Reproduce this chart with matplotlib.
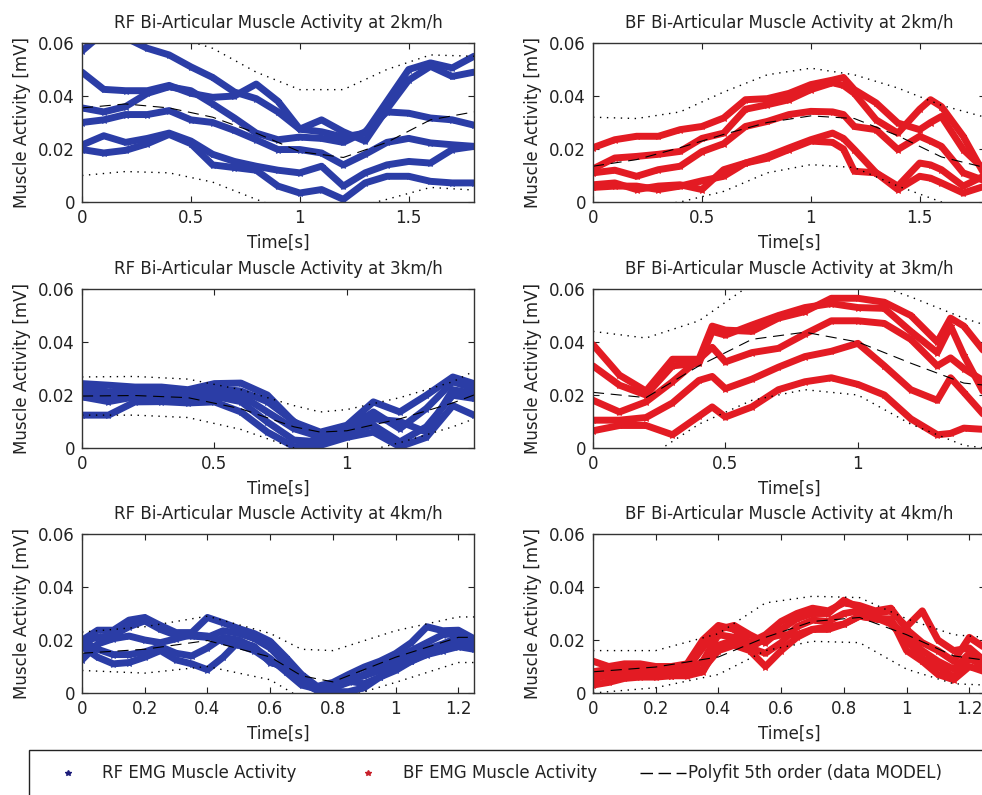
import numpy as np
import matplotlib
matplotlib.use("Agg")
import matplotlib.pyplot as plt
from matplotlib.lines import Line2D
from matplotlib.patches import Rectangle

plt.rcParams['font.family'] = ['DejaVu Sans']

BLUE = '#2b3da6'
RED = '#e31b23'

# ---- RF 2 km/h ----
t_rf2 = [0, .1, .2, .3, .4, .5, .6, .7, .8, .9, 1.0, 1.1, 1.2, 1.3, 1.4, 1.5, 1.6, 1.7, 1.8]
rf2 = [
    [0.057, 0.064, 0.062, 0.058, 0.0555, 0.051, 0.047, 0.0415, 0.039, 0.034, 0.0275, 0.0265, 0.0245, 0.026, 0.038, 0.050, 0.0525, 0.0506, 0.055],
    [0.049, 0.0425, 0.042, 0.042, 0.044, 0.041, 0.0395, 0.040, 0.0445, 0.038, 0.0275, 0.031, 0.0265, 0.023, 0.035, 0.046, 0.0512, 0.0474, 0.049],
    [0.0355, 0.034, 0.036, 0.041, 0.0435, 0.042, 0.037, 0.0317, 0.026, 0.0235, 0.0245, 0.024, 0.0225, 0.0265, 0.034, 0.0335, 0.0317, 0.031, 0.029],
    [0.030, 0.031, 0.033, 0.033, 0.0345, 0.031, 0.030, 0.027, 0.0235, 0.0198, 0.0198, 0.0185, 0.014, 0.018, 0.0225, 0.024, 0.0223, 0.0216, 0.021],
    [0.0215, 0.025, 0.0225, 0.024, 0.026, 0.023, 0.018, 0.0153, 0.0135, 0.012, 0.011, 0.0135, 0.006, 0.011, 0.014, 0.0153, 0.0147, 0.0198, 0.021],
    [0.0198, 0.0185, 0.0195, 0.022, 0.0255, 0.022, 0.014, 0.013, 0.012, 0.006, 0.0034, 0.0047, 0.001, 0.0072, 0.0097, 0.0097, 0.0078, 0.0072, 0.0072],
]
tb_rf2 = [0, .2, .4, .6, .8, 1.0, 1.2, 1.4, 1.6, 1.8]
fit_rf2 = [0.0355, 0.037, 0.0355, 0.032, 0.026, 0.019, 0.0168, 0.0225, 0.031, 0.034]
up_rf2 = [0.062, 0.064, 0.063, 0.058, 0.049, 0.0424, 0.0424, 0.050, 0.0555, 0.055]
lo_rf2 = [0.010, 0.0115, 0.011, 0.0075, 0.001, -0.005, -0.003, 0.001, 0.0055, 0.0045]

# ---- BF 2 km/h ----
t_bf2 = [0, .1, .2, .3, .4, .5, .6, .7, .8, .9, 1.0, 1.1, 1.15, 1.2, 1.3, 1.4, 1.5, 1.55, 1.6, 1.7, 1.8]
bf2 = [
    [0.0205, 0.0235, 0.0248, 0.0248, 0.0273, 0.0285, 0.0317, 0.0386, 0.039, 0.041, 0.0443, 0.046, 0.047, 0.0424, 0.0374, 0.0298, 0.0273, 0.030, 0.0323, 0.0198, 0.012],
    [0.0125, 0.0166, 0.0172, 0.018, 0.0191, 0.024, 0.026, 0.035, 0.0367, 0.0386, 0.0424, 0.045, 0.044, 0.041, 0.031, 0.026, 0.035, 0.0386, 0.036, 0.0248, 0.010],
    [0.011, 0.012, 0.0097, 0.0122, 0.0135, 0.019, 0.022, 0.0285, 0.0304, 0.033, 0.0342, 0.034, 0.033, 0.0285, 0.0273, 0.0198, 0.0248, 0.023, 0.021, 0.011, 0.008],
    [0.0065, 0.0072, 0.0047, 0.006, 0.0065, 0.0047, 0.0122, 0.0147, 0.0172, 0.0204, 0.0235, 0.026, 0.024, 0.0198, 0.011, 0.006, 0.0147, 0.014, 0.0122, 0.006, 0.010],
    [0.0055, 0.006, 0.006, 0.0047, 0.006, 0.008, 0.0097, 0.0147, 0.0165, 0.0198, 0.023, 0.0225, 0.020, 0.0116, 0.011, 0.0047, 0.0097, 0.009, 0.0072, 0.0034, 0.006],
]
tb_bf2 = [0, .2, .4, .6, .8, 1.0, 1.2, 1.4, 1.6, 1.8]
fit_bf2 = [0.0135, 0.016, 0.0205, 0.0255, 0.030, 0.0325, 0.0315, 0.025, 0.017, 0.013]
up_bf2 = [0.032, 0.0315, 0.034, 0.0415, 0.048, 0.0505, 0.048, 0.043, 0.0365, 0.032]
lo_bf2 = [-0.005, -0.002, 0.0, 0.004, 0.011, 0.0141, 0.013, 0.006, 0.0, -0.005]

# ---- RF 3 km/h ----
t_rf3 = [0, .1, .2, .3, .4, .5, .6, .7, .8, .9, 1.0, 1.1, 1.2, 1.3, 1.4, 1.48]
rf3 = [
    [0.0243, 0.0237, 0.023, 0.023, 0.022, 0.0243, 0.0245, 0.020, 0.0098, 0.006, 0.0086, 0.0174, 0.0136, 0.0199, 0.0268, 0.0243],
    [0.0224, 0.0212, 0.021, 0.0215, 0.0205, 0.021, 0.0199, 0.0136, 0.0073, 0.0042, 0.0073, 0.0136, 0.0073, 0.0149, 0.025, 0.0224],
    [0.0193, 0.0175, 0.0193, 0.019, 0.0185, 0.0195, 0.0175, 0.0098, 0.003, 0.0023, 0.006, 0.0086, 0.0023, 0.008, 0.0199, 0.0187],
    [0.0124, 0.0124, 0.0174, 0.0175, 0.017, 0.0174, 0.0136, 0.006, 0.0005, 0.001, 0.004, 0.006, 0.0005, 0.004, 0.016, 0.0124],
    [0.020, 0.019, 0.0215, 0.020, 0.021, 0.0225, 0.0215, 0.0175, 0.010, 0.003, 0.005, 0.011, 0.010, 0.006, 0.022, 0.0205],
]
tb_rf3 = [0, .2, .4, .6, .8, .9, 1.0, 1.2, 1.4, 1.48]
fit_rf3 = [0.0196, 0.0198, 0.019, 0.0148, 0.008, 0.006, 0.0065, 0.011, 0.017, 0.020]
up_rf3 = [0.0268, 0.027, 0.026, 0.022, 0.016, 0.0136, 0.0145, 0.019, 0.025, 0.029]
lo_rf3 = [0.0124, 0.0124, 0.0115, 0.007, 0.0, -0.002, -0.003, 0.002, 0.008, 0.011]

# ---- BF 3 km/h ----
t_bf3 = [0, .1, .2, .3, .4, .45, .5, .6, .7, .8, .9, 1.0, 1.1, 1.2, 1.3, 1.35, 1.4, 1.48]
bf3 = [
    [0.039, 0.0275, 0.0215, 0.0335, 0.0335, 0.046, 0.0445, 0.044, 0.049, 0.0515, 0.0565, 0.0565, 0.055, 0.050, 0.040, 0.049, 0.046, 0.036],
    [0.031, 0.0237, 0.020, 0.031, 0.032, 0.044, 0.0426, 0.0464, 0.050, 0.053, 0.0545, 0.053, 0.0527, 0.044, 0.036, 0.046, 0.035, 0.020],
    [0.018, 0.0136, 0.0174, 0.025, 0.0335, 0.038, 0.0325, 0.036, 0.0376, 0.043, 0.048, 0.048, 0.047, 0.041, 0.031, 0.034, 0.030, 0.025],
    [0.0105, 0.0105, 0.0115, 0.017, 0.0255, 0.027, 0.0224, 0.026, 0.0305, 0.0345, 0.0365, 0.0395, 0.031, 0.022, 0.018, 0.0265, 0.021, 0.012],
    [0.0065, 0.0085, 0.0085, 0.005, 0.012, 0.0155, 0.0117, 0.0155, 0.022, 0.025, 0.0265, 0.024, 0.020, 0.011, 0.005, 0.0055, 0.0075, 0.007],
]
tb_bf3 = [0, .2, .4, .6, .8, 1.0, 1.2, 1.4, 1.48]
fit_bf3 = [0.021, 0.019, 0.031, 0.041, 0.0437, 0.040, 0.032, 0.0245, 0.0237]
up_bf3 = [0.044, 0.0415, 0.048, 0.062, 0.066, 0.064, 0.057, 0.049, 0.0464]
lo_bf3 = [-0.002, -0.004, 0.009, 0.018, 0.022, 0.020, 0.009, 0.001, 0.000]

# ---- RF 4 km/h ----
t_rf4 = [0, .05, .1, .15, .2, .25, .3, .35, .4, .45, .5, .55, .6, .65, .7, .75, .8, .85, .9, .95, 1.0, 1.05, 1.1, 1.15, 1.2, 1.25]
rf4 = [
    [0.0199, 0.0237, 0.0237, 0.0275, 0.0285, 0.0255, 0.0228, 0.0228, 0.0285, 0.0265, 0.0243, 0.0224, 0.0195, 0.0135, 0.007, 0.0025, 0.004, 0.007, 0.0098, 0.012, 0.0149, 0.019, 0.025, 0.0235, 0.0237, 0.0205],
    [0.0195, 0.021, 0.0218, 0.025, 0.0272, 0.024, 0.0218, 0.0215, 0.021, 0.0235, 0.0225, 0.0205, 0.017, 0.011, 0.005, 0.001, 0.002, 0.004, 0.007, 0.010, 0.013, 0.016, 0.019, 0.022, 0.0225, 0.0195],
    [0.0175, 0.0135, 0.011, 0.0115, 0.0135, 0.016, 0.0125, 0.011, 0.0088, 0.0135, 0.0195, 0.0175, 0.0115, 0.010, 0.0055, 0.0015, 0.0005, 0.0005, 0.002, 0.006, 0.0095, 0.012, 0.015, 0.018, 0.0185, 0.0175],
    [0.020, 0.0165, 0.0145, 0.0145, 0.0155, 0.0175, 0.015, 0.014, 0.017, 0.021, 0.020, 0.017, 0.013, 0.008, 0.003, 0.0015, 0.003, 0.0055, 0.0065, 0.0085, 0.011, 0.0135, 0.0165, 0.0185, 0.021, 0.0185],
    [0.0125, 0.0185, 0.0205, 0.0215, 0.020, 0.019, 0.0205, 0.022, 0.0215, 0.0195, 0.018, 0.016, 0.012, 0.009, 0.004, 0.001, 0.0015, 0.0045, 0.0035, 0.006, 0.0085, 0.012, 0.0145, 0.016, 0.0175, 0.0165],
]
tb_rf4 = [0, .2, .4, .6, .7, .8, 1.0, 1.2, 1.25]
fit_rf4 = [0.015, 0.0165, 0.0198, 0.0136, 0.0065, 0.0042, 0.0135, 0.021, 0.021]
up_rf4 = [0.023, 0.025, 0.029, 0.0225, 0.0165, 0.016, 0.0235, 0.0287, 0.0287]
lo_rf4 = [0.0085, 0.0075, 0.010, 0.005, -0.002, -0.003, 0.004, 0.0115, 0.0115]

# ---- BF 4 km/h ----
t_bf4 = [0, .05, .1, .15, .2, .25, .3, .35, .4, .45, .5, .55, .6, .65, .7, .75, .8, .85, .9, .95, 1.0, 1.05, 1.1, 1.15, 1.2, 1.25]
bf4 = [
    [0.012, 0.010, 0.011, 0.011, 0.010, 0.010, 0.011, 0.020, 0.0255, 0.024, 0.019, 0.022, 0.027, 0.030, 0.032, 0.031, 0.034, 0.033, 0.031, 0.032, 0.024, 0.019, 0.016, 0.012, 0.021, 0.017],
    [0.008, 0.009, 0.0095, 0.0085, 0.009, 0.0085, 0.009, 0.017, 0.024, 0.0255, 0.022, 0.019, 0.024, 0.028, 0.030, 0.030, 0.035, 0.032, 0.030, 0.031, 0.025, 0.031, 0.020, 0.016, 0.017, 0.012],
    [0.005, 0.007, 0.0075, 0.008, 0.0075, 0.0065, 0.007, 0.009, 0.016, 0.018, 0.016, 0.010, 0.016, 0.021, 0.024, 0.024, 0.026, 0.029, 0.028, 0.027, 0.021, 0.016, 0.012, 0.009, 0.015, 0.009],
    [0.003, 0.004, 0.0055, 0.006, 0.006, 0.0065, 0.0065, 0.008, 0.018, 0.020, 0.017, 0.0205, 0.022, 0.022, 0.024, 0.025, 0.026, 0.029, 0.028, 0.028, 0.016, 0.012, 0.007, 0.005, 0.010, 0.008],
    [0.007, 0.006, 0.007, 0.0065, 0.0075, 0.008, 0.008, 0.012, 0.022, 0.021, 0.017, 0.015, 0.019, 0.025, 0.0275, 0.027, 0.030, 0.031, 0.0285, 0.026, 0.020, 0.013, 0.010, 0.006, 0.013, 0.010],
]
tb_bf4 = [0, .2, .4, .55, .7, .85, 1.0, 1.15, 1.25]
fit_bf4 = [0.008, 0.0098, 0.0136, 0.021, 0.027, 0.0285, 0.022, 0.014, 0.0124]
up_bf4 = [0.016, 0.016, 0.0224, 0.034, 0.0365, 0.036, 0.028, 0.022, 0.021]
lo_bf4 = [0.0, 0.002, 0.007, 0.016, 0.0195, 0.019, 0.009, 0.0035, 0.003]

panels = [
    ("RF Bi-Articular Muscle Activity at 2km/h", t_rf2, rf2, tb_rf2, fit_rf2, up_rf2, lo_rf2, BLUE, 1.8, [0, 0.5, 1, 1.5]),
    ("BF Bi-Articular Muscle Activity at 2km/h", t_bf2, bf2, tb_bf2, fit_bf2, up_bf2, lo_bf2, RED, 1.8, [0, 0.5, 1, 1.5]),
    ("RF Bi-Articular Muscle Activity at 3km/h", t_rf3, rf3, tb_rf3, fit_rf3, up_rf3, lo_rf3, BLUE, 1.48, [0, 0.5, 1]),
    ("BF Bi-Articular Muscle Activity at 3km/h", t_bf3, bf3, tb_bf3, fit_bf3, up_bf3, lo_bf3, RED, 1.48, [0, 0.5, 1]),
    ("RF Bi-Articular Muscle Activity at 4km/h", t_rf4, rf4, tb_rf4, fit_rf4, up_rf4, lo_rf4, BLUE, 1.25, [0, 0.2, 0.4, 0.6, 0.8, 1, 1.2]),
    ("BF Bi-Articular Muscle Activity at 4km/h", t_bf4, bf4, tb_bf4, fit_bf4, up_bf4, lo_bf4, RED, 1.25, [0, 0.2, 0.4, 0.6, 0.8, 1, 1.2]),
]

W, H = 982, 795
fig = plt.figure(figsize=(W / 100, H / 100), dpi=100)

lefts = [82, 593]
tops = [43, 289, 534]
aw, ah = 392, 159
FS = 12

for i, (title, t, traces, tb, fit, up, lo, col, xmax, xt) in enumerate(panels):
    r, c = divmod(i, 2)
    ax = fig.add_axes([lefts[c] / W, 1 - (tops[r] + ah) / H, aw / W, ah / H])
    for y in traces:
        ax.plot(t, y, color=col, lw=5, solid_joinstyle='round', solid_capstyle='round',
                marker='*', ms=5, mew=0.8)
    ax.plot(tb, fit, color='black', lw=0.8, ls=(0, (10, 6)))
    ax.plot(tb, up, color='black', lw=1.0, ls=(0, (1, 4)))
    ax.plot(tb, lo, color='black', lw=1.0, ls=(0, (1, 4)))
    ax.set_xlim(0, xmax)
    ax.set_ylim(0, 0.06)
    ax.set_xticks(xt)
    ax.set_xticklabels([f"{v:g}" for v in xt])
    ax.set_yticks([0, 0.02, 0.04, 0.06])
    ax.set_yticklabels(['0', '0.02', '0.04', '0.06'])
    ax.tick_params(direction='in', top=True, right=True, length=4, width=0.8,
                   labelsize=FS, pad=5, colors='#222222', labelcolor='#222222')
    for s in ax.spines.values():
        s.set_color('#333333')
        s.set_linewidth(1.0)
    ax.set_title(title, fontsize=FS, pad=11, color='#222222')
    ax.set_ylabel("Muscle Activity [mV]", fontsize=FS, labelpad=5, color='#222222')
    ax.set_xlabel("Time[s]", fontsize=FS, labelpad=5, color='#222222')

# legend box at the bottom
fig.add_artist(Rectangle((29 / W, -0.05), 1.0, 0.05 + (H - 750) / H, transform=fig.transFigure,
                         fill=False, edgecolor='#222222', lw=1.0))
ly = 1 - 773 / H
fig.add_artist(Line2D([68 / W], [ly], marker='*', ms=4, color='#1c1c7a', ls='none',
                      transform=fig.transFigure))
fig.text(102 / W, ly, "RF EMG Muscle Activity", fontsize=FS, va='center', color='#222222')
fig.add_artist(Line2D([368 / W], [ly], marker='*', ms=4, color='#c8202a', ls='none',
                      transform=fig.transFigure))
fig.text(403 / W, ly, "BF EMG Muscle Activity", fontsize=FS, va='center', color='#222222')
fig.add_artist(Line2D([640 / W, 686 / W], [ly, ly], color='black', lw=1.0, ls=(0, (9, 4)),
                      transform=fig.transFigure))
fig.text(688 / W, ly, "Polyfit 5th order (data MODEL)", fontsize=FS, va='center', color='#222222')

fig.savefig("out.png", dpi=100)
